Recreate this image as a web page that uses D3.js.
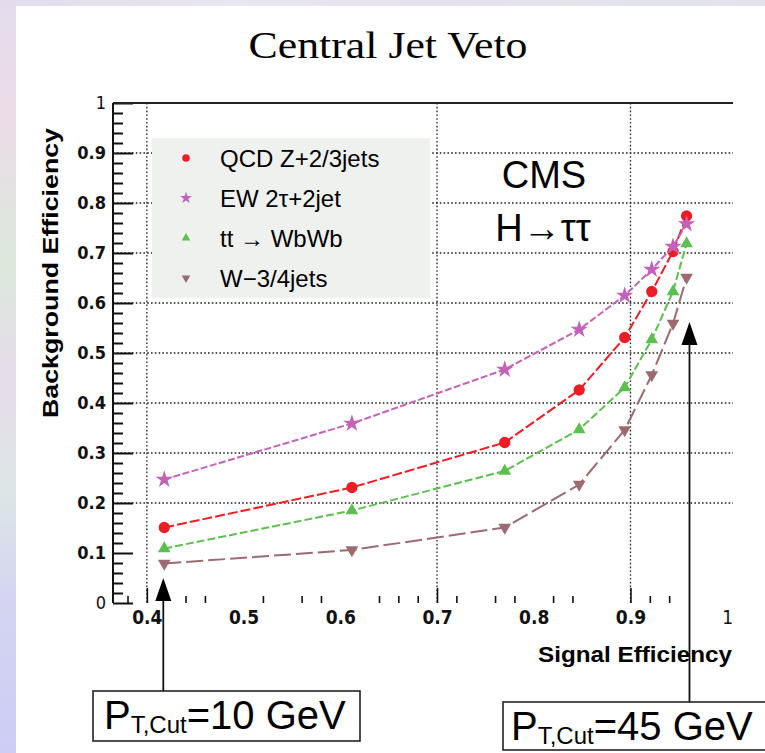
<!DOCTYPE html>
<html>
<head>
<meta charset="utf-8">
<script src="https://cdn.jsdelivr.net/npm/d3@7/dist/d3.min.js"></script>
<style>
  html, body { margin: 0; padding: 0; background: #fff; }
  svg { display: block; }
</style>
</head>
<body>
<svg id="chart" width="765" height="753"></svg>
<script>
// Signal efficiency for each jet pT cut (10 ... 45 GeV)
const signalEff = [0.418, 0.612, 0.770, 0.847, 0.894, 0.922, 0.944, 0.958];

// Background efficiencies, one array per sample
const qcdZ   = [0.151, 0.231, 0.321, 0.426, 0.531, 0.623, 0.703, 0.774];
const ewTau  = [0.247, 0.359, 0.467, 0.547, 0.615, 0.667, 0.713, 0.758];
const ttbar  = [0.109, 0.185, 0.264, 0.347, 0.431, 0.527, 0.623, 0.719];
const wJets  = [0.079, 0.106, 0.151, 0.237, 0.346, 0.456, 0.559, 0.651];

const seriesNames = ["QCD Z+2/3jets", "EW 2\u03C4+2jet", "tt \u2192 WbWb", "W\u22123/4jets"];

// Axis ticks
const xLabelTicks = [0.4, 0.5, 0.6, 0.7, 0.8, 0.9, 1.0];
const xMajorTicks = [0.4, 0.7, 0.9];
const xMinorTicks = [0.38, 0.44, 0.46, 0.52, 0.56, 0.58, 0.64, 0.66, 0.68,
                     0.72, 0.76, 0.78, 0.82, 0.84, 0.92, 0.94];
const yMajorTicks = [0, 0.1, 0.2, 0.3, 0.4, 0.5, 0.6, 0.7, 0.8, 0.9, 1.0];
const yMinorTicks = d3.range(0, 100, 2).filter(v => v % 10 !== 0).map(v => v / 100);
const xGridTicks = [0.4, 0.7, 0.9];
const yGridTicks = [0.2, 0.3, 0.4, 0.5, 0.6, 0.7, 0.8, 0.9];

// Jet pT cut annotations: cut label and the signal efficiency it points at
const cutLabels = ["10 GeV", "45 GeV"];
const cutSignalEff = [0.417, 0.961];

// ---------------------------------------------------------------------------
const svg = d3.select("#chart");
const W = 765, H = 753;

const frame = { left: 113, right: 733, top: 103, bottom: 603 };
const x = d3.scaleLinear().domain([0.365, 1.006]).range([frame.left, frame.right]);
const y = d3.scaleLinear().domain([0, 1]).range([frame.bottom, frame.top]);

const colors = ["#ee1d25", "#c263b9", "#5cbf50", "#9b6b70"];
const dashes = ["10,3", "7,2.5", "8,3", "17,5"];
const symbolTypes = [d3.symbolCircle, d3.symbolStar, d3.symbolTriangle, d3.symbolTriangle];
const symbolRot = [0, 0, 0, 180];
const symbolSize = [100, 95, 70, 70];
const legendSymbolSize = [45, 45, 32, 32];

const series = [qcdZ, ewTau, ttbar, wJets].map((vals, i) => ({
  name: seriesNames[i],
  color: colors[i],
  dash: dashes[i],
  points: vals.map((v, j) => ({ sx: signalEff[j], by: v }))
}));

// Slide background showing at the page edge
const defs = svg.append("defs");
const edgeGrad = defs.append("linearGradient").attr("id", "edge")
  .attr("x1", 0).attr("y1", 0).attr("x2", 0).attr("y2", 1);
[["0%", "#e4dcec"], ["15%", "#ecdce8"], ["35%", "#dce8dc"], ["50%", "#e6dcea"],
 ["65%", "#dde6e6"], ["80%", "#d4d4f2"], ["100%", "#cdcdf6"]]
  .forEach(([o, c]) => edgeGrad.append("stop").attr("offset", o).attr("stop-color", c));
const topGrad = defs.append("linearGradient").attr("id", "topedge")
  .attr("x1", 0).attr("y1", 0).attr("x2", 1).attr("y2", 0);
[["0%", "#e2dcea"], ["30%", "#e8e6ee"], ["60%", "#e6e2ea"], ["100%", "#e0e4ea"]]
  .forEach(([o, c]) => topGrad.append("stop").attr("offset", o).attr("stop-color", c));

svg.append("rect").attr("width", W).attr("height", H).attr("fill", "#fff");
svg.append("rect").attr("x", 0).attr("y", 0).attr("width", W).attr("height", 6).attr("fill", "url(#topedge)");
svg.append("rect").attr("x", 0).attr("y", 0).attr("width", 16).attr("height", H).attr("fill", "url(#edge)");

// Title
svg.append("text")
  .attr("x", 388).attr("y", 58)
  .attr("text-anchor", "middle")
  .attr("font-family", "'Liberation Serif', 'Times New Roman', serif")
  .attr("font-size", 38)
  .attr("textLength", 279).attr("lengthAdjust", "spacingAndGlyphs")
  .text("Central Jet Veto");

// Grid
const grid = svg.append("g")
  .attr("stroke", "#222").attr("stroke-width", 1.3).attr("stroke-dasharray", "1.6,2.2");
grid.selectAll("line.gx").data(xGridTicks).join("line").attr("class", "gx")
  .attr("x1", d => x(d)).attr("x2", d => x(d))
  .attr("y1", frame.top).attr("y2", frame.bottom);
grid.selectAll("line.gy").data(yGridTicks).join("line").attr("class", "gy")
  .attr("x1", frame.left).attr("x2", frame.right)
  .attr("y1", d => y(d)).attr("y2", d => y(d));

// Legend box (drawn over the grid)
const legend = svg.append("g");
legend.append("rect")
  .attr("x", 152).attr("y", 138).attr("width", 278).attr("height", 160)
  .attr("fill", "#eff1ef");
const legendRows = legend.selectAll("g.row").data(series).join("g")
  .attr("class", "row")
  .attr("transform", (d, i) => `translate(186, ${158 + i * 40})`);
legendRows.append("path")
  .attr("d", (d, i) => d3.symbol().type(symbolTypes[i]).size(legendSymbolSize[i])())
  .attr("transform", (d, i) => `rotate(${symbolRot[i]})`)
  .attr("fill", d => d.color);
legendRows.append("text")
  .attr("x", 34).attr("y", 9)
  .attr("font-family", "'Liberation Sans', Arial, sans-serif")
  .attr("font-size", 24)
  .text(d => d.name);

// Curves
const line = d3.line().x(d => x(d.sx)).y(d => y(d.by));
svg.append("g").selectAll("path").data(series).join("path")
  .attr("d", d => line(d.points))
  .attr("fill", "none")
  .attr("stroke", d => d.color)
  .attr("stroke-width", 2)
  .attr("stroke-dasharray", d => d.dash);

// Markers
series.forEach((s, i) => {
  svg.append("g").selectAll("path").data(s.points).join("path")
    .attr("d", d3.symbol().type(symbolTypes[i]).size(symbolSize[i])())
    .attr("transform", d => `translate(${x(d.sx)},${y(d.by)}) rotate(${symbolRot[i]})`)
    .attr("fill", s.color);
});

// Axes
const tickFont = "'Liberation Sans Narrow', 'DejaVu Sans Condensed', Arial, sans-serif";
const fmt = d => (d === 0 ? "0" : d === 1 ? "1" : d3.format(".1f")(d));

const yAxis = svg.append("g").attr("transform", `translate(${frame.left},0)`)
  .call(d3.axisLeft(y).tickValues(yMajorTicks).tickSizeInner(-20).tickSizeOuter(0)
    .tickPadding(7).tickFormat(fmt));
yAxis.select(".domain").remove();
yAxis.selectAll(".tick line").attr("stroke", "#111").attr("stroke-width", 2);
yAxis.selectAll(".tick text")
  .attr("font-family", tickFont).attr("font-weight", "bold").attr("font-size", 18).attr("fill", "#111");
yAxis.selectAll(".tick text").filter(d => d === 0 || d === 1).attr("font-weight", "normal");

const yMinor = svg.append("g").attr("transform", `translate(${frame.left},0)`)
  .call(d3.axisLeft(y).tickValues(yMinorTicks).tickSizeInner(-10).tickSizeOuter(0).tickFormat(""));
yMinor.select(".domain").remove();
yMinor.selectAll(".tick line").attr("stroke", "#111").attr("stroke-width", 2);

const xLabels = svg.append("g").attr("transform", `translate(0,${frame.bottom})`)
  .call(d3.axisBottom(x).tickValues(xLabelTicks).tickSize(0).tickPadding(8).tickFormat(fmt));
xLabels.select(".domain").remove();
xLabels.selectAll(".tick text")
  .attr("font-family", tickFont).attr("font-weight", "bold").attr("font-size", 19).attr("fill", "#111");
xLabels.selectAll(".tick text").filter(d => d === 1).attr("font-weight", "normal");

const xMajor = svg.append("g").attr("transform", `translate(0,${frame.bottom})`)
  .call(d3.axisBottom(x).tickValues(xMajorTicks).tickSizeInner(-15).tickSizeOuter(0).tickFormat(""));
xMajor.select(".domain").remove();
xMajor.selectAll(".tick line").attr("stroke", "#111").attr("stroke-width", 1.6);

const xMinor = svg.append("g").attr("transform", `translate(0,${frame.bottom})`)
  .call(d3.axisBottom(x).tickValues(xMinorTicks).tickSizeInner(-7).tickSizeOuter(0).tickFormat(""));
xMinor.select(".domain").remove();
xMinor.selectAll(".tick line").attr("stroke", "#111").attr("stroke-width", 1.6);

// Frame: left axis line and top edge
svg.append("line").attr("x1", frame.left).attr("x2", frame.left)
  .attr("y1", frame.top).attr("y2", frame.bottom)
  .attr("stroke", "#111").attr("stroke-width", 2);
svg.append("line").attr("x1", frame.left).attr("x2", frame.right)
  .attr("y1", frame.top).attr("y2", frame.top)
  .attr("stroke", "#222").attr("stroke-width", 2.2);

// Axis titles
svg.append("text")
  .attr("transform", "translate(58,273) rotate(-90)")
  .attr("text-anchor", "middle")
  .attr("font-family", "'Liberation Sans', Arial, sans-serif")
  .attr("font-weight", "bold").attr("font-size", 22)
  .attr("textLength", 290).attr("lengthAdjust", "spacingAndGlyphs")
  .text("Background Efficiency");
svg.append("text")
  .attr("x", 732).attr("y", 662)
  .attr("text-anchor", "end")
  .attr("font-family", "'Liberation Sans', Arial, sans-serif")
  .attr("font-weight", "bold").attr("font-size", 22)
  .attr("textLength", 194).attr("lengthAdjust", "spacingAndGlyphs")
  .text("Signal Efficiency");

// Experiment / channel label
const cms = svg.append("g")
  .attr("font-family", "'Liberation Sans', Arial, sans-serif")
  .attr("font-size", 38).attr("text-anchor", "middle");
cms.append("text").attr("x", 544).attr("y", 188).text("CMS");
cms.append("text").attr("x", 543).attr("y", 241).text("H\u2192\u03C4\u03C4");

// pT cut annotations: box with label and arrow to the point
const boxes = [
  { x0: 93, y0: 691, w: 267, h: 50, tx: 104, ty: 729 },
  { x0: 503, y0: 702, w: 270, h: 48, tx: 511, ty: 740 }
];
const tipY = [578, 322];
cutLabels.forEach((lab, i) => {
  const b = boxes[i];
  const ax = x(cutSignalEff[i]);
  const g = svg.append("g");
  g.append("line").attr("x1", ax).attr("x2", ax)
    .attr("y1", b.y0).attr("y2", tipY[i] + 20)
    .attr("stroke", "#111").attr("stroke-width", 1.8);
  g.append("path")
    .attr("d", `M${ax},${tipY[i]} L${ax - 8},${tipY[i] + 23} L${ax + 8},${tipY[i] + 23} Z`)
    .attr("fill", "#000");
  g.append("rect").attr("x", b.x0).attr("y", b.y0).attr("width", b.w).attr("height", b.h)
    .attr("fill", "#fff").attr("stroke", "#222").attr("stroke-width", 1.6);
  const t = g.append("text").attr("x", b.tx).attr("y", b.ty)
    .attr("font-family", "'Liberation Sans', Arial, sans-serif").attr("font-size", 40);
  t.append("tspan").text("P");
  t.append("tspan").attr("font-size", 24).attr("dy", 4).text("T,Cut");
  t.append("tspan").attr("dy", -4).text("=" + lab);
});
</script>
</body>
</html>
